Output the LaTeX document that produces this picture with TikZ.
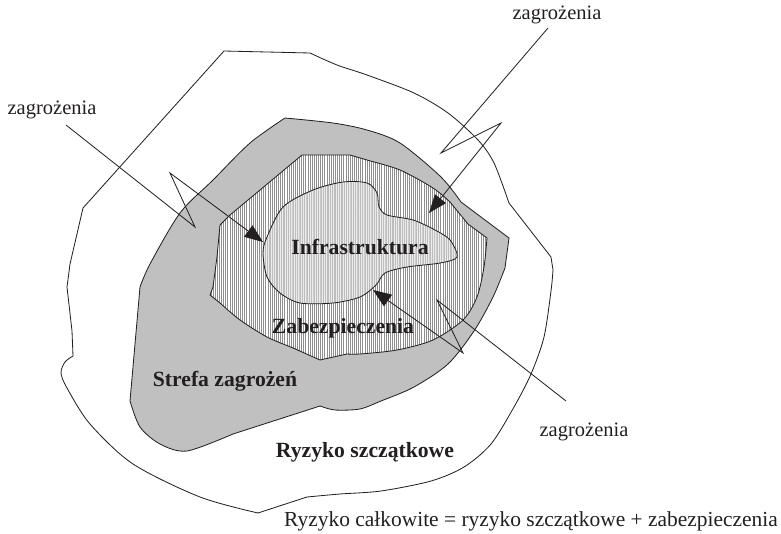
\documentclass[tikz,border=0pt]{standalone}
\usepackage{fontspec}
\setmainfont{Liberation Serif}
\usetikzlibrary{arrows.meta,patterns.meta}
\definecolor{Zone}{HTML}{C0C0C0}
\definecolor{Hatch}{HTML}{8E8E8E}
\definecolor{Core}{HTML}{ECECEC}
\definecolor{CoreLine}{HTML}{BDBDBD}
\definecolor{Ink}{HTML}{231F20}

\begin{document}
\begin{tikzpicture}[
  x=0.03cm, y=-0.03cm,
  region/.style={draw=Ink, line width=0.7pt, line join=round},
  lbl/.style={font=\fontsize{17.5}{20}\selectfont, text=Ink, inner sep=0pt},
  zone/.style={font=\fontsize{18.5}{21}\selectfont\bfseries, text=Ink, inner sep=0pt},
  arr/.style={-{Triangle[length=0.55cm,width=0.42cm]}, line width=0.7pt, draw=Ink}
]
\useasboundingbox (0,0) rectangle (781,534);

\draw[region, fill=white] (224,51) -- (310,53)
  -- plot[smooth] coordinates {(310,53) (337,65) (367,75) (414,93) (448,113) (478,140) (494,163) (509,203)}
  -- (551,257) -- (553,270)
  -- plot[smooth] coordinates {(553,270) (551,291) (544,337) (531,374) (514,407) (491,444) (464,467) (431,481) (381,491) (340,494) (307,497)}
  -- (258,513)
  -- plot[smooth] coordinates {(258,513) (200,497) (133,464) (90,424) (67,388) (61,373) (65,362) (73,356)}
  -- (72,331) -- (67,287) -- (70,264) -- (83,208) -- cycle;

\draw[region, fill=Zone] (285,118)
  -- plot[smooth] coordinates {(285,118) (333,123) (367,130) (400,143) (441,177) (461,202)}
  -- (509,238) -- (505,268)
  -- plot[smooth] coordinates {(505,268) (493,297) (474,331) (448,364) (414,387) (381,401) (360,409) (335,410) (320,406)}
  -- (233,434)
  -- plot[smooth] coordinates {(233,434) (187,451) (160,444) (140,427) (130,401)}
  -- (140,287)
  -- plot[smooth] coordinates {(140,287) (150,264) (180,213) (213,180) (250,143) (285,118)}
  -- cycle;

\draw[region, preaction={fill=white}, pattern={Lines[angle=90,distance=1.8pt,line width=0.5pt]}, pattern color=Hatch] (302,155) -- (350,155)
  -- plot[smooth] coordinates {(350,155) (367,160) (400,170) (433,188) (450,202)}
  -- (468,224) -- (487,238)
  -- plot[smooth] coordinates {(487,238) (484,267) (477,297) (463,320) (433,340) (397,350) (360,354) (347,354)}
  -- (320,360)
  -- plot[smooth] coordinates {(320,360) (293,348) (267,337) (240,320) (220,303)}
  -- (210,295) -- (213,287) -- (217,257) -- (220,225) -- (230,215) -- cycle;

\draw[region, preaction={fill=Core}, pattern={Lines[angle=90,distance=1.5pt,line width=0.35pt]}, pattern color=CoreLine]
  plot[smooth cycle] coordinates {(263,253) (267,237) (283,207) (313,190) (343,182) (367,183) (377,193) (379,207) (387,215) (413,220) (435,230) (450,240) (457,257) (440,263) (407,267) (385,273) (376,285) (360,297) (333,303) (300,303) (280,293) (267,277)};

\node[lbl] (zTop) at (557,15) {zagrożenia};
\node[lbl] (zLeft) at (52,110) {zagrożenia};
\node[lbl] (zRight) at (584,432) {zagrożenia};
\node[zone] (infra) at (360,247) {Infrastruktura};
\node[zone] (secur) at (343,328) {Zabezpieczenia};
\node[zone] (threat) at (225,381) {Strefa zagrożeń};
\node[zone] (resid) at (365,452) {Ryzyko szczątkowe};
\node[lbl, font=\fontsize{18.3}{21}\selectfont] (total) at (531,521) {Ryzyko całkowite = ryzyko szczątkowe + zabezpieczenia};

\coordinate (l0) at (66,125);
\coordinate (l1) at (195,227);
\coordinate (l2) at (170,173);
\coordinate (l3) at (263,242);
\coordinate (t0) at (548,28);
\coordinate (t1) at (441,153);
\coordinate (t2) at (501,123);
\coordinate (t3) at (429,213);
\coordinate (b0) at (566,401);
\coordinate (b1) at (437,300);
\coordinate (b2) at (463,353);
\coordinate (b3) at (373,290);

\draw[arr] (l0) -- (l1) -- (l2) -- (l3);
\draw[arr] (t0) -- (t1) -- (t2) -- (t3);
\draw[arr] (b0) -- (b1) -- (b2) -- (b3);
\end{tikzpicture}
\end{document}
